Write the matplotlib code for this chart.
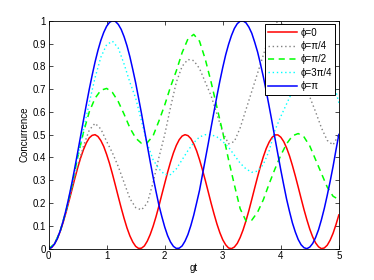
import matplotlib
matplotlib.use("Agg")
import matplotlib.pyplot as plt

# sample positions (gt) for the curves
gt = [round(0.1 * i, 1) for i in range(51)]
gt_fine = [round(0.05 * i, 2) for i in range(101)]

# phi = 0 (read at 0.05 steps)
c_phi0 = [0.000, 0.005, 0.020, 0.044, 0.076, 0.115, 0.159, 0.208, 0.257, 0.307,
          0.354, 0.397, 0.434, 0.464, 0.486, 0.497, 0.500, 0.492, 0.474, 0.448,
          0.413, 0.373, 0.327, 0.278, 0.228, 0.179, 0.133, 0.091, 0.056, 0.029,
          0.010, 0.001, 0.002, 0.012, 0.033, 0.062, 0.098, 0.140, 0.187, 0.237,
          0.286, 0.335, 0.380, 0.420, 0.453, 0.478, 0.494, 0.500, 0.496, 0.483,
          0.460, 0.429, 0.390, 0.346, 0.299, 0.249, 0.199, 0.152, 0.108, 0.070,
          0.039, 0.017, 0.003, 0.000, 0.007, 0.023, 0.049, 0.082, 0.122, 0.167,
          0.216, 0.266, 0.315, 0.362, 0.404, 0.440, 0.468, 0.488, 0.499, 0.499,
          0.489, 0.470, 0.442, 0.407, 0.365, 0.319, 0.270, 0.220, 0.171, 0.126,
          0.085, 0.051, 0.025, 0.008, 0.000, 0.003, 0.015, 0.037, 0.067, 0.105,
          0.148]

# phi = pi/4
c_phi_pi4 = [0.000, 0.020, 0.077, 0.160, 0.260, 0.360, 0.450, 0.520, 0.550, 0.525,
             0.470, 0.420, 0.360, 0.290, 0.220, 0.180, 0.170, 0.200, 0.290, 0.400,
             0.500, 0.620, 0.730, 0.800, 0.830, 0.825, 0.790, 0.730, 0.670, 0.590,
             0.510, 0.460, 0.470, 0.530, 0.610, 0.690, 0.770, 0.850, 0.930, 0.990,
             1.000, 0.950, 0.860, 0.780, 0.720, 0.665, 0.600, 0.530, 0.475, 0.455,
             0.500]

# phi = pi/2
c_phi_pi2 = [0.000, 0.020, 0.077, 0.165, 0.275, 0.400, 0.510, 0.600, 0.660, 0.695,
             0.703, 0.685, 0.645, 0.590, 0.530, 0.485, 0.462, 0.465, 0.495, 0.560,
             0.630, 0.710, 0.780, 0.860, 0.920, 0.940, 0.910, 0.830, 0.730, 0.620,
             0.510, 0.390, 0.280, 0.175, 0.122, 0.125, 0.160, 0.215, 0.285, 0.350,
             0.410, 0.460, 0.495, 0.505, 0.490, 0.450, 0.390, 0.330, 0.270, 0.230,
             0.215]

# phi = 3pi/4
c_phi_3pi4 = [0.000, 0.020, 0.078, 0.168, 0.280, 0.400, 0.520, 0.640, 0.750, 0.840,
              0.895, 0.910, 0.880, 0.810, 0.730, 0.660, 0.560, 0.460, 0.390, 0.350,
              0.325, 0.325, 0.350, 0.390, 0.430, 0.465, 0.490, 0.500, 0.500, 0.490,
              0.470, 0.445, 0.410, 0.375, 0.350, 0.335, 0.340, 0.370, 0.430, 0.520,
              0.580, 0.635, 0.690, 0.750, 0.800, 0.840, 0.860, 0.850, 0.810, 0.740,
              0.640]

# phi = pi (read at 0.05 steps)
c_phi_pi = [0.000, 0.005, 0.020, 0.044, 0.078, 0.120, 0.170, 0.226, 0.287, 0.353,
            0.422, 0.492, 0.563, 0.632, 0.699, 0.761, 0.819, 0.870, 0.914, 0.949,
            0.976, 0.993, 1.000, 0.997, 0.984, 0.962, 0.930, 0.890, 0.842, 0.786,
            0.727, 0.660, 0.593, 0.522, 0.452, 0.382, 0.314, 0.251, 0.191, 0.141,
            0.095, 0.057, 0.029, 0.010, 0.001, 0.002, 0.012, 0.033, 0.062, 0.101,
            0.147, 0.201, 0.256, 0.324, 0.393, 0.461, 0.533, 0.602, 0.670, 0.735,
            0.795, 0.850, 0.896, 0.935, 0.966, 0.987, 0.998, 0.999, 0.991, 0.972,
            0.945, 0.906, 0.863, 0.810, 0.753, 0.690, 0.623, 0.555, 0.483, 0.414,
            0.345, 0.280, 0.217, 0.163, 0.113, 0.073, 0.040, 0.017, 0.004, 0.000,
            0.007, 0.023, 0.049, 0.083, 0.127, 0.177, 0.234, 0.295, 0.360, 0.432,
            0.501]

labels = ["\u03d5=0", "\u03d5=\u03c0/4", "\u03d5=\u03c0/2", "\u03d5=3\u03c0/4", "\u03d5=\u03c0"]
x_ticks = [0, 1, 2, 3, 4, 5]
y_ticks = [0, 0.1, 0.2, 0.3, 0.4, 0.5, 0.6, 0.7, 0.8, 0.9, 1]
y_tick_labels = ["0", "0.1", "0.2", "0.3", "0.4", "0.5", "0.6", "0.7", "0.8", "0.9", "1"]

plt.rcParams["font.family"] = ["Liberation Sans", "DejaVu Sans"]

fig = plt.figure(figsize=(3.74, 2.8), dpi=100)
ax = fig.add_axes([0.130, 0.112, 0.776, 0.814])

ax.plot(gt_fine, c_phi0, color="#ff0000", lw=1.1, ls="-", label=labels[0])
ax.plot(gt, c_phi_pi4, color="#808080", lw=1.0, ls=(0, (1, 2)), label=labels[1])
ax.plot(gt, c_phi_pi2, color="#00ff00", lw=1.1, ls=(0, (4, 3)), label=labels[2])
ax.plot(gt, c_phi_3pi4, color="#00ffff", lw=1.0, ls=(0, (1, 2)), label=labels[3])
ax.plot(gt_fine, c_phi_pi, color="#0000ff", lw=1.1, ls="-", label=labels[4])

ax.set_xlim(0, 5)
ax.set_ylim(0, 1)
ax.set_xticks(x_ticks)
ax.set_yticks(y_ticks)
ax.set_yticklabels(y_tick_labels)
ax.tick_params(direction="in", top=True, right=True, labelsize=7, length=3, width=0.5, pad=2)
for s in ax.spines.values():
    s.set_linewidth(0.6)
ax.set_xlabel("gt", fontsize=7, labelpad=1)
ax.set_ylabel("Concurrence", fontsize=7, labelpad=2)

leg = ax.legend(loc="upper right", bbox_to_anchor=(0.987, 0.985), borderaxespad=0,
                fontsize=7, fancybox=False, framealpha=1, edgecolor="black",
                handlelength=3.0, handletextpad=0.3, labelspacing=0.35,
                borderpad=0.35)
leg.get_frame().set_linewidth(0.7)

fig.savefig("out.png", dpi=100)
